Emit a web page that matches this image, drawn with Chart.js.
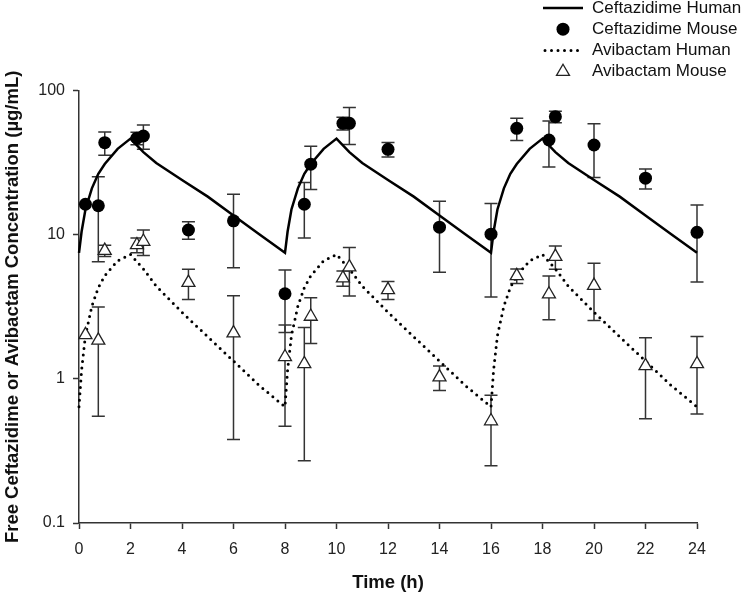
<!DOCTYPE html>
<html>
<head>
<meta charset="utf-8">
<script src="https://cdn.jsdelivr.net/npm/chart.js@4.4.1/dist/chart.umd.min.js"></script>
<style>
  html, body { margin: 0; padding: 0; background: #fff; }
  #wrap { width: 742px; height: 596px; }
</style>
</head>
<body>
<div id="wrap"><canvas id="chart" width="742" height="596"></canvas></div>
<script>
// simulated human profiles (h, ug/mL), three q8h doses
const humanTimes = [
  0, 0.1, 0.25, 0.5, 0.75, 1, 1.5, 2, 2.5, 3, 4, 5, 6, 7,
  8, 8.1, 8.25, 8.5, 8.75, 9, 9.5, 10, 10.5, 11, 12, 13, 14, 15,
  16, 16.1, 16.25, 16.5, 16.75, 17, 17.5, 18, 18.5, 19, 20, 21, 22, 23,
  24
];
const cefHuman = [
  7.5, 10.5, 15, 21, 26.5, 31, 39.5, 46.5, 37.5, 31.5, 24, 18.4, 13.6, 10.1,
  7.5, 10.5, 15, 21, 26.5, 31, 39.5, 46.5, 37.5, 31.5, 24, 18.4, 13.6, 10.1,
  7.5, 10.5, 15, 21, 26.5, 31, 39.5, 46.5, 37.5, 31.5, 24, 18.4, 13.6, 10.1,
  7.5
];
const aviHuman = [
  0.64, 1.15, 2.0, 3.2, 4.3, 5.2, 6.6, 7.3, 5.8, 4.4, 2.9, 1.96, 1.33, 0.9,
  0.64, 1.15, 2.0, 3.2, 4.3, 5.2, 6.6, 7.3, 5.8, 4.4, 2.9, 1.96, 1.33, 0.9,
  0.64, 1.15, 2.0, 3.2, 4.3, 5.2, 6.6, 7.3, 5.8, 4.4, 2.9, 1.96, 1.33, 0.9,
  0.64
];

// mouse observations, mean and SD
const mouseTimes = [0.25, 0.75, 1, 2.25, 2.5, 4.25, 6, 8, 8.75, 9, 10.25, 10.5, 12, 14, 16, 17, 18.25, 18.5, 20, 22, 24];
const cefMouse   = [16.3, 15.9, 43.6, 46.8, 48.5, 10.8, 12.5, 3.9, 16.3, 30.9, 59.4, 59.4, 39.2, 11.3, 10.1, 54.8, 45.5, 66.0, 42.0, 24.7, 10.4];
const cefMouseSD = [0, 9.4, 8, 4.6, 9.3, 1.5, 6.6, 1.8, 6.8, 10.3, 6, 17, 4.5, 5.8, 6.4, 9.6, 16, 6, 17, 3.9, 5.7];
const aviMouse   = [2.02, 1.85, 7.77, 8.5, 8.98, 4.66, 2.08, 1.42, 1.27, 2.71, 5.0, 5.96, 4.15, 1.03, 0.51, 5.19, 3.87, 7.06, 4.44, 1.23, 1.27];
const aviMouseSD = [0, 1.3, 0.7, 1.0, 1.8, 1.1, 1.7, 0.95, 1.0, 0.95, 0.6, 2.2, 0.6, 0.2, 0.26, 0.6, 1.3, 1.3, 1.9, 0.7, 0.7];

const yTicks = [0.1, 1, 10, 100];
const yTickLabels = ['0.1', '1', '10', '100'];
const legendLabels = ['Ceftazidime Human', 'Ceftazidime Mouse', 'Avibactam Human', 'Avibactam Mouse'];

const FONT = "'Liberation Sans', Arial, sans-serif";
const AXIS = '#333';

const pts = (xs, ys) => xs.map((x, i) => ({x: x, y: ys[i]}));

/* vertical SD bars with caps, drawn under the markers */
const errorBars = {
  id: 'errorBars',
  beforeDatasetsDraw(chart) {
    const {ctx, scales: {x, y}} = chart;
    ctx.save();
    ctx.strokeStyle = AXIS;
    ctx.lineWidth = 1.5;
    [[cefMouse, cefMouseSD], [aviMouse, aviMouseSD]].forEach(([mean, sd]) => {
      mean.forEach((m, i) => {
        if (!sd[i]) return;
        const px = x.getPixelForValue(mouseTimes[i]);
        const top = y.getPixelForValue(m + sd[i]);
        const bot = y.getPixelForValue(Math.max(m - sd[i], 0.1));
        ctx.beginPath();
        ctx.moveTo(px, top); ctx.lineTo(px, bot);
        ctx.moveTo(px - 6.5, top); ctx.lineTo(px + 6.5, top);
        ctx.moveTo(px - 6.5, bot); ctx.lineTo(px + 6.5, bot);
        ctx.stroke();
      });
    });
    ctx.restore();
  }
};

/* legend in the top right corner, no box */
const cornerLegend = {
  id: 'cornerLegend',
  afterDraw(chart) {
    const ctx = chart.ctx;
    const rows = [8, 29.2, 50.5, 71.7];
    const mx = 563, tx = 592;
    ctx.save();
    ctx.font = '17px ' + FONT;
    ctx.textBaseline = 'middle';
    legendLabels.forEach((lab, i) => {
      const ry = rows[i];
      ctx.fillStyle = '#111';
      ctx.fillText(lab, tx, ry);
      ctx.strokeStyle = '#000';
      ctx.fillStyle = '#000';
      if (i === 0) {
        ctx.lineWidth = 2.5;
        ctx.beginPath(); ctx.moveTo(543, ry); ctx.lineTo(583, ry); ctx.stroke();
      } else if (i === 1) {
        ctx.beginPath(); ctx.arc(mx, ry, 6.5, 0, Math.PI * 2); ctx.fill();
      } else if (i === 2) {
        ctx.lineWidth = 3; ctx.lineCap = 'round'; ctx.setLineDash([0, 6.5]);
        ctx.beginPath(); ctx.moveTo(545, ry); ctx.lineTo(583, ry); ctx.stroke();
        ctx.setLineDash([]);
      } else {
        const r = 7.5;
        ctx.fillStyle = '#fff'; ctx.strokeStyle = '#222'; ctx.lineWidth = 1.3;
        ctx.beginPath();
        ctx.moveTo(mx, ry - r);
        ctx.lineTo(mx + r * 0.866, ry + r / 2);
        ctx.lineTo(mx - r * 0.866, ry + r / 2);
        ctx.closePath(); ctx.fill(); ctx.stroke();
      }
    });
    ctx.restore();
  }
};

new Chart(document.getElementById('chart'), {
  type: 'line',
  data: {
    datasets: [{
      label: legendLabels[1],
      data: pts(mouseTimes, cefMouse),
      showLine: false,
      pointStyle: 'circle',
      pointRadius: 6.5,
      pointBackgroundColor: '#000',
      pointBorderWidth: 0,
      clip: false,
      order: 1
    }, {
      label: legendLabels[3],
      data: pts(mouseTimes, aviMouse),
      showLine: false,
      pointStyle: 'triangle',
      pointRadius: 7.5,
      pointBackgroundColor: '#fff',
      pointBorderColor: '#222',
      pointBorderWidth: 1.3,
      clip: false,
      order: 2
    }, {
      label: legendLabels[0],
      data: pts(humanTimes, cefHuman),
      borderColor: '#000',
      borderWidth: 2.5,
      pointRadius: 0,
      tension: 0,
      clip: false,
      order: 3
    }, {
      label: legendLabels[2],
      data: pts(humanTimes, aviHuman),
      borderColor: '#000',
      borderWidth: 3,
      borderDash: [0, 6.5],
      borderCapStyle: 'round',
      pointRadius: 0,
      tension: 0,
      clip: false,
      order: 4
    }]
  },
  options: {
    responsive: false,
    animation: false,
    devicePixelRatio: 1,
    layout: { padding: { top: 90.7, right: 45, bottom: 0, left: 0 } },
    plugins: { legend: { display: false }, tooltip: { enabled: false } },
    scales: {
      x: {
        type: 'linear',
        min: 0,
        max: 24,
        ticks: { stepSize: 2, padding: 11, color: '#222', font: { size: 16, family: FONT } },
        grid: { drawOnChartArea: false, tickLength: 6, tickColor: AXIS, tickWidth: 1.5 },
        border: { color: AXIS, width: 1.5 },
        title: { display: true, text: 'Time (h)', color: '#111', font: { size: 18.5, weight: 'bold', family: FONT }, padding: { top: 0, bottom: 2 } },
        afterFit(s) { s.height = 73; }
      },
      y: {
        type: 'logarithmic',
        min: 0.1,
        max: 100,
        afterBuildTicks(s) { s.ticks = yTicks.map(v => ({ value: v })); },
        ticks: {
          padding: 8,
          color: '#222',
          font: { size: 16, family: FONT },
          callback(v) {
            const i = yTicks.findIndex(t => Math.abs(t - v) / t < 1e-6);
            return i < 0 ? '' : yTickLabels[i];
          }
        },
        grid: { drawOnChartArea: false, tickLength: 6, tickColor: AXIS, tickWidth: 1.5 },
        border: { color: AXIS, width: 1.5 },
        title: { display: true, text: 'Free Ceftazidime or Avibactam Concentration (\u00b5g/mL)', color: '#111', font: { size: 18.5, weight: 'bold', family: FONT }, padding: { top: 2, bottom: 0 } },
        afterFit(s) { s.width = 79; }
      }
    }
  },
  plugins: [errorBars, cornerLegend]
});
</script>
</body>
</html>
